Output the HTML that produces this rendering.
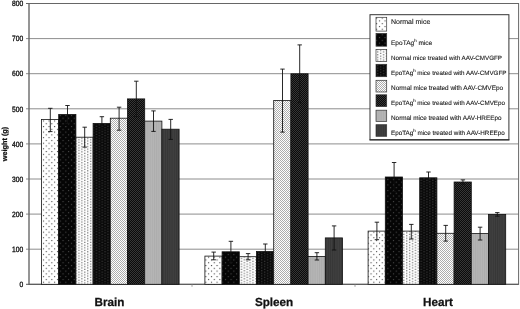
<!DOCTYPE html>
<html><head><meta charset="utf-8"><title>Organ weight chart</title>
<style>
html,body{margin:0;padding:0;background:#fff;}
svg{display:block;}
text{font-family:"Liberation Sans",Arial,sans-serif;fill:#111;text-rendering:geometricPrecision;}
</style></head><body>
<svg width="520" height="309" viewBox="0 0 520 309">
<defs>
<pattern id="p1" width="5.6" height="5.56" patternUnits="userSpaceOnUse"><rect width="5.6" height="5.56" fill="#fff"/><rect x="0.9" y="0.9" width="1.1" height="1.1" fill="#444"/><rect x="3.7" y="3.68" width="1.1" height="1.1" fill="#444"/></pattern>
<pattern id="p2" width="5.6" height="5.56" patternUnits="userSpaceOnUse"><rect width="5.6" height="5.56" fill="#050505"/><rect x="0.9" y="0.9" width="1.1" height="1.1" fill="#4a4a4a"/><rect x="3.7" y="3.68" width="1.1" height="1.1" fill="#4a4a4a"/></pattern>
<pattern id="p3" width="5.8" height="2.7" patternUnits="userSpaceOnUse"><rect width="5.8" height="2.7" fill="#fff"/><rect x="0.2" y="0.2" width="1.1" height="1.05" fill="#484848"/><rect x="3.1" y="1.55" width="1.1" height="1.05" fill="#484848"/></pattern>
<pattern id="p4" width="5.8" height="2.7" patternUnits="userSpaceOnUse"><rect width="5.8" height="2.7" fill="#080808"/><rect x="0.2" y="0.2" width="1.1" height="1" fill="#4a4a4a"/><rect x="3.1" y="1.55" width="1.1" height="1" fill="#4a4a4a"/></pattern>
<pattern id="p5" width="2" height="2" patternUnits="userSpaceOnUse"><rect width="2" height="2" fill="#fff"/><rect x="0" y="0" width="0.9" height="0.9" fill="#999"/><rect x="1" y="1" width="0.9" height="0.9" fill="#999"/></pattern>
<pattern id="p6" width="2" height="2" patternUnits="userSpaceOnUse"><rect width="2" height="2" fill="#0a0a0a"/><rect x="0" y="0" width="0.9" height="0.9" fill="#404040"/><rect x="1" y="1" width="0.9" height="0.9" fill="#404040"/></pattern>
<pattern id="p7" width="2.2" height="4" patternUnits="userSpaceOnUse"><rect width="2.2" height="4" fill="#b6b6b6"/><rect x="0" y="0" width="1" height="4" fill="#acacac"/></pattern>
<pattern id="p8" width="2.2" height="4" patternUnits="userSpaceOnUse"><rect width="2.2" height="4" fill="#404040"/><rect x="0" y="0" width="1" height="4" fill="#363636"/></pattern>
</defs>
<rect width="520" height="309" fill="#fff"/>

<line x1="26" y1="249.20" x2="518.6" y2="249.20" stroke="#808080" stroke-width="0.9"/>
<line x1="26" y1="214.10" x2="518.6" y2="214.10" stroke="#808080" stroke-width="0.9"/>
<line x1="26" y1="179.00" x2="518.6" y2="179.00" stroke="#808080" stroke-width="0.9"/>
<line x1="26" y1="143.90" x2="518.6" y2="143.90" stroke="#808080" stroke-width="0.9"/>
<line x1="26" y1="108.80" x2="518.6" y2="108.80" stroke="#808080" stroke-width="0.9"/>
<line x1="26" y1="73.70" x2="518.6" y2="73.70" stroke="#808080" stroke-width="0.9"/>
<line x1="26" y1="38.60" x2="518.6" y2="38.60" stroke="#808080" stroke-width="0.9"/>
<rect x="29" y="3.5" width="489.6" height="280.8" fill="none" stroke="#666" stroke-width="1"/>
<line x1="29" y1="3" x2="29" y2="285" stroke="#6a6a6a" stroke-width="0.8"/>
<line x1="26" y1="3.5" x2="29" y2="3.5" stroke="#666" stroke-width="1"/>
<line x1="26" y1="284.3" x2="518.6" y2="284.3" stroke="#555" stroke-width="1"/>
<line x1="192" y1="284.3" x2="192" y2="286.8" stroke="#888" stroke-width="0.8"/>
<line x1="355" y1="284.3" x2="355" y2="286.8" stroke="#888" stroke-width="0.8"/>
<text transform="translate(23.3,287.00) scale(0.96,1.1)" font-size="7" text-anchor="end" stroke="#111" stroke-width="0.3">0</text>
<text transform="translate(23.3,251.90) scale(0.96,1.1)" font-size="7" text-anchor="end" stroke="#111" stroke-width="0.3">100</text>
<text transform="translate(23.3,216.80) scale(0.96,1.1)" font-size="7" text-anchor="end" stroke="#111" stroke-width="0.3">200</text>
<text transform="translate(23.3,181.70) scale(0.96,1.1)" font-size="7" text-anchor="end" stroke="#111" stroke-width="0.3">300</text>
<text transform="translate(23.3,146.60) scale(0.96,1.1)" font-size="7" text-anchor="end" stroke="#111" stroke-width="0.3">400</text>
<text transform="translate(23.3,111.50) scale(0.96,1.1)" font-size="7" text-anchor="end" stroke="#111" stroke-width="0.3">500</text>
<text transform="translate(23.3,76.40) scale(0.96,1.1)" font-size="7" text-anchor="end" stroke="#111" stroke-width="0.3">600</text>
<text transform="translate(23.3,41.30) scale(0.96,1.1)" font-size="7" text-anchor="end" stroke="#111" stroke-width="0.3">700</text>
<text transform="translate(23.3,6.20) scale(0.96,1.1)" font-size="7" text-anchor="end" stroke="#111" stroke-width="0.3">800</text>
<text transform="translate(6.7,144) rotate(-90)" font-size="7.3" font-weight="bold" text-anchor="middle" stroke="#111" stroke-width="0.25">weight (g)</text>
<rect x="41.50" y="119.50" width="17.2" height="164.80" fill="url(#p1)" stroke="#111" stroke-width="0.8"/>
<rect x="58.70" y="114.50" width="17.2" height="169.80" fill="url(#p2)" stroke="#111" stroke-width="0.8"/>
<rect x="75.90" y="137.20" width="17.2" height="147.10" fill="url(#p3)" stroke="#111" stroke-width="0.8"/>
<rect x="93.10" y="123.40" width="17.2" height="160.90" fill="url(#p4)" stroke="#111" stroke-width="0.8"/>
<rect x="110.30" y="118.20" width="17.2" height="166.10" fill="url(#p5)" stroke="#111" stroke-width="0.8"/>
<rect x="127.50" y="98.90" width="17.2" height="185.40" fill="url(#p6)" stroke="#111" stroke-width="0.8"/>
<rect x="144.70" y="121.10" width="17.2" height="163.20" fill="url(#p7)" stroke="#111" stroke-width="0.8"/>
<rect x="161.90" y="129.20" width="17.2" height="155.10" fill="url(#p8)" stroke="#111" stroke-width="0.8"/>
<path d="M50.30 108.30V131.60M48.10 108.30H52.50M48.10 131.60H52.50" stroke="#111" stroke-width="0.9" fill="none"/>
<path d="M67.50 105.50V123.50M65.30 105.50H69.70M65.30 123.50H69.70" stroke="#111" stroke-width="0.9" fill="none"/>
<path d="M84.70 127.20V147.10M82.50 127.20H86.90M82.50 147.10H86.90" stroke="#111" stroke-width="0.9" fill="none"/>
<path d="M101.90 116.70V130.10M99.70 116.70H104.10M99.70 130.10H104.10" stroke="#111" stroke-width="0.9" fill="none"/>
<path d="M119.10 107.20V130.20M116.90 107.20H121.30M116.90 130.20H121.30" stroke="#111" stroke-width="0.9" fill="none"/>
<path d="M136.30 81.20V116.60M134.10 81.20H138.50M134.10 116.60H138.50" stroke="#111" stroke-width="0.9" fill="none"/>
<path d="M153.50 110.90V131.40M151.30 110.90H155.70M151.30 131.40H155.70" stroke="#111" stroke-width="0.9" fill="none"/>
<path d="M170.70 119.40V139.40M168.50 119.40H172.90M168.50 139.40H172.90" stroke="#111" stroke-width="0.9" fill="none"/>
<rect x="204.90" y="256.10" width="17.2" height="28.20" fill="url(#p1)" stroke="#111" stroke-width="0.8"/>
<rect x="222.10" y="251.80" width="17.2" height="32.50" fill="url(#p2)" stroke="#111" stroke-width="0.8"/>
<rect x="239.30" y="256.70" width="17.2" height="27.60" fill="url(#p3)" stroke="#111" stroke-width="0.8"/>
<rect x="256.50" y="251.50" width="17.2" height="32.80" fill="url(#p4)" stroke="#111" stroke-width="0.8"/>
<rect x="273.70" y="100.50" width="17.2" height="183.80" fill="url(#p5)" stroke="#111" stroke-width="0.8"/>
<rect x="290.90" y="73.80" width="17.2" height="210.50" fill="url(#p6)" stroke="#111" stroke-width="0.8"/>
<rect x="308.10" y="256.40" width="17.2" height="27.90" fill="url(#p7)" stroke="#111" stroke-width="0.8"/>
<rect x="325.30" y="237.90" width="17.2" height="46.40" fill="url(#p8)" stroke="#111" stroke-width="0.8"/>
<path d="M213.70 252.10V259.80M211.50 252.10H215.90M211.50 259.80H215.90" stroke="#111" stroke-width="0.9" fill="none"/>
<path d="M230.90 241.30V262.30M228.70 241.30H233.10M228.70 262.30H233.10" stroke="#111" stroke-width="0.9" fill="none"/>
<path d="M248.10 253.60V259.80M245.90 253.60H250.30M245.90 259.80H250.30" stroke="#111" stroke-width="0.9" fill="none"/>
<path d="M265.30 244.00V259.00M263.10 244.00H267.50M263.10 259.00H267.50" stroke="#111" stroke-width="0.9" fill="none"/>
<path d="M282.50 69.10V132.10M280.30 69.10H284.70M280.30 132.10H284.70" stroke="#111" stroke-width="0.9" fill="none"/>
<path d="M299.70 44.90V102.70M297.50 44.90H301.90M297.50 102.70H301.90" stroke="#111" stroke-width="0.9" fill="none"/>
<path d="M316.90 252.70V260.00M314.70 252.70H319.10M314.70 260.00H319.10" stroke="#111" stroke-width="0.9" fill="none"/>
<path d="M334.10 225.90V250.00M331.90 225.90H336.30M331.90 250.00H336.30" stroke="#111" stroke-width="0.9" fill="none"/>
<rect x="368.10" y="231.10" width="17.2" height="53.20" fill="url(#p1)" stroke="#111" stroke-width="0.8"/>
<rect x="385.30" y="177.00" width="17.2" height="107.30" fill="url(#p2)" stroke="#111" stroke-width="0.8"/>
<rect x="402.50" y="231.10" width="17.2" height="53.20" fill="url(#p3)" stroke="#111" stroke-width="0.8"/>
<rect x="419.70" y="177.80" width="17.2" height="106.50" fill="url(#p4)" stroke="#111" stroke-width="0.8"/>
<rect x="436.90" y="233.30" width="17.2" height="51.00" fill="url(#p5)" stroke="#111" stroke-width="0.8"/>
<rect x="454.10" y="182.00" width="17.2" height="102.30" fill="url(#p6)" stroke="#111" stroke-width="0.8"/>
<rect x="471.30" y="233.60" width="17.2" height="50.70" fill="url(#p7)" stroke="#111" stroke-width="0.8"/>
<rect x="488.50" y="214.40" width="17.2" height="69.90" fill="url(#p8)" stroke="#111" stroke-width="0.8"/>
<path d="M376.90 222.20V239.70M374.70 222.20H379.10M374.70 239.70H379.10" stroke="#111" stroke-width="0.9" fill="none"/>
<path d="M394.10 162.50V191.50M391.90 162.50H396.30M391.90 191.50H396.30" stroke="#111" stroke-width="0.9" fill="none"/>
<path d="M411.30 224.40V239.00M409.10 224.40H413.50M409.10 239.00H413.50" stroke="#111" stroke-width="0.9" fill="none"/>
<path d="M428.50 172.00V183.60M426.30 172.00H430.70M426.30 183.60H430.70" stroke="#111" stroke-width="0.9" fill="none"/>
<path d="M445.70 225.40V241.10M443.50 225.40H447.90M443.50 241.10H447.90" stroke="#111" stroke-width="0.9" fill="none"/>
<path d="M462.90 179.90V184.10M460.70 179.90H465.10M460.70 184.10H465.10" stroke="#111" stroke-width="0.9" fill="none"/>
<path d="M480.10 227.20V240.00M477.90 227.20H482.30M477.90 240.00H482.30" stroke="#111" stroke-width="0.9" fill="none"/>
<path d="M497.30 212.60V216.20M495.10 212.60H499.50M495.10 216.20H499.50" stroke="#111" stroke-width="0.9" fill="none"/>
<text x="109.5" y="306.1" font-size="11.7" font-weight="bold" text-anchor="middle" stroke="#111" stroke-width="0.25">Brain</text>
<text x="274.1" y="306.1" font-size="11.7" font-weight="bold" text-anchor="middle" stroke="#111" stroke-width="0.25">Spleen</text>
<text x="438" y="306.1" font-size="11.7" font-weight="bold" text-anchor="middle" stroke="#111" stroke-width="0.25">Heart</text>
<rect x="370" y="14.7" width="138.9" height="125" fill="#fff" stroke="#333" stroke-width="1"/><line x1="369.5" y1="139.9" x2="509.4" y2="139.9" stroke="#333" stroke-width="1.4"/>
<rect x="376.0" y="17.3" width="10.7" height="13.8" fill="url(#p1)" stroke="#333" stroke-width="0.7"/>
<text x="391.0" y="24.4" font-size="7" fill="#222" stroke="#222" stroke-width="0.1">Normal mice</text>
<rect x="376.0" y="33.4" width="10.7" height="12.8" fill="url(#p2)" stroke="#333" stroke-width="0.7"/>
<text x="391.0" y="44.8" font-size="6.55" fill="#222" stroke="#222" stroke-width="0.1">EpoTAg<tspan font-size="4.3" dy="-2.7">h</tspan><tspan dy="2.7"> mice</tspan></text>
<rect x="376.0" y="49.4" width="10.7" height="12.2" fill="url(#p3)" stroke="#333" stroke-width="0.7"/>
<text x="391.0" y="59.8" font-size="6.25" fill="#222" stroke="#222" stroke-width="0.1">Normal mice treated with AAV-CMVGFP</text>
<rect x="376.0" y="64.3" width="10.7" height="12.4" fill="url(#p4)" stroke="#333" stroke-width="0.7"/>
<text x="391.0" y="74.6" font-size="6.25" fill="#222" stroke="#222" stroke-width="0.1">EpoTAg<tspan font-size="4.3" dy="-2.7">h</tspan><tspan dy="2.7"> mice treated with AAV-CMVGFP</tspan></text>
<rect x="376.0" y="80.3" width="10.7" height="11.7" fill="url(#p5)" stroke="#333" stroke-width="0.7"/>
<text x="391.0" y="90.2" font-size="6.42" fill="#222" stroke="#222" stroke-width="0.1">Normal mice treated with AAV-CMVEpo</text>
<rect x="376.0" y="94.8" width="10.7" height="11.8" fill="url(#p6)" stroke="#333" stroke-width="0.7"/>
<text x="391.0" y="105.1" font-size="6.27" fill="#222" stroke="#222" stroke-width="0.1">EpoTAg<tspan font-size="4.3" dy="-2.7">h</tspan><tspan dy="2.7"> mice treated with AAV-CMVEpo</tspan></text>
<rect x="376.0" y="110.2" width="10.7" height="11.3" fill="url(#p7)" stroke="#333" stroke-width="0.7"/>
<text x="391.0" y="120.0" font-size="6.37" fill="#222" stroke="#222" stroke-width="0.1">Normal mice treated with AAV-HREEpo</text>
<rect x="376.0" y="124.7" width="10.7" height="11.6" fill="url(#p8)" stroke="#333" stroke-width="0.7"/>
<text x="391.0" y="134.9" font-size="6.31" fill="#222" stroke="#222" stroke-width="0.1">EpoTAg<tspan font-size="4.3" dy="-2.7">h</tspan><tspan dy="2.7"> mice treated with AAV-HREEpo</tspan></text>
</svg></body></html>
